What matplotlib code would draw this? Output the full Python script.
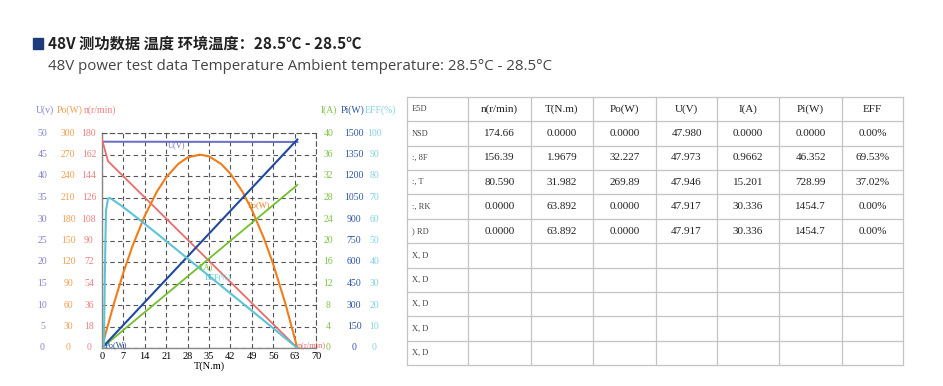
import matplotlib
matplotlib.use("Agg")
import matplotlib.pyplot as plt
from matplotlib.transforms import blended_transform_factory
from matplotlib.patches import Rectangle

# ---------------- data ----------------
torque = [0, 1.0, 1.97, 4, 7, 10, 14, 18, 21, 25, 28, 32, 35, 39, 42, 46, 49, 53, 56, 60, 63.892]
speed = [174.66, 165.4, 156.39, 151.26, 143.68, 136.10, 126.00, 115.90, 108.32, 98.22, 90.65,
         80.54, 72.97, 62.86, 55.29, 45.19, 37.61, 27.51, 19.93, 9.83, 0.0]
power_out = [0, 17.3, 32.2, 63.4, 105.3, 142.5, 184.7, 218.5, 238.2, 257.1, 265.8,
             269.9, 267.4, 256.7, 243.2, 217.7, 193.0, 152.7, 116.9, 61.8, 0.0]
voltage = [47.98, 47.98, 47.973, 47.97, 47.968, 47.966, 47.963, 47.96, 47.957, 47.954, 47.951,
           47.946, 47.943, 47.939, 47.936, 47.932, 47.929, 47.925, 47.922, 47.92, 47.917]
current = [0, 0.49, 0.9662, 1.929, 3.352, 4.775, 6.672, 8.569, 9.992, 11.889, 13.312,
           15.209, 16.632, 18.529, 19.952, 21.849, 23.272, 25.169, 26.592, 28.489, 30.336]
power_in = [0, 23.5, 46.352, 92.5, 160.7, 229.0, 319.9, 410.9, 479.1, 570.1, 638.3,
            729.3, 797.5, 888.5, 956.7, 1047.7, 1115.9, 1206.9, 1275.1, 1366.1, 1454.7]
eff_torque = [0, 0.6, 1.0, 1.3, 1.97, 2.5, 4, 7, 10, 14, 18, 21, 25, 28, 32, 35, 39, 42, 46, 49, 53, 56, 60, 63.892]
efficiency = [0, 0, 40, 64, 69.53, 69.8, 68.5, 65.5, 62.2, 57.7, 53.2, 49.7, 45.1, 41.6,
              37.0, 33.5, 28.9, 25.4, 20.8, 17.3, 12.7, 9.2, 4.5, 0.0]

x_ticks = [0, 7, 14, 21, 28, 35, 42, 49, 56, 63, 70]
u_ticks = [0, 5, 10, 15, 20, 25, 30, 35, 40, 45, 50]
po_ticks = [0, 30, 60, 90, 120, 150, 180, 210, 240, 270, 300]
n_ticks = [0, 18, 36, 54, 72, 90, 108, 126, 144, 162, 180]
i_ticks = [0, 4, 8, 12, 16, 20, 24, 28, 32, 36, 40]
pi_ticks = [0, 150, 300, 450, 600, 750, 900, 1050, 1200, 1350, 1500]
eff_ticks = [0, 10, 20, 30, 40, 50, 60, 70, 80, 90, 100]

table_header = ["E5D", "n(r/min)", "T(N.m)", "Po(W)", "U(V)", "I(A)", "Pi(W)", "EFF"]
table_rows = [
    ["NSD", "174.66", "0.0000", "0.0000", "47.980", "0.0000", "0.0000", "0.00%"],
    [":, 8F", "156.39", "1.9679", "32.227", "47.973", "0.9662", "46.352", "69.53%"],
    [":, T", "80.590", "31.982", "269.89", "47.946", "15.201", "728.99", "37.02%"],
    [":, RK", "0.0000", "63.892", "0.0000", "47.917", "30.336", "1454.7", "0.00%"],
    [") RD", "0.0000", "63.892", "0.0000", "47.917", "30.336", "1454.7", "0.00%"],
    ["X, D", "", "", "", "", "", "", ""],
    ["X, D", "", "", "", "", "", "", ""],
    ["X, D", "", "", "", "", "", "", ""],
    ["X, D", "", "", "", "", "", "", ""],
    ["X, D", "", "", "", "", "", "", ""],
]

title_cn = "48V 测功数据 温度 环境温度：28.5℃ - 28.5℃"
title_en = "48V power test data Temperature Ambient temperature: 28.5°C - 28.5°C"

# ---------------- styles ----------------
C_U, C_N, C_PO = "#6f73c6", "#ec6b6b", "#f07d1a"
C_I, C_PI, C_EFF = "#72c02c", "#1f4aa0", "#5bc4d6"
L_U, L_PO, L_N = "#8484cc", "#f2a050", "#f08080"
L_I, L_PI, L_EFF = "#7cc446", "#2c55a5", "#86d2e2"
SERIF = "Liberation Serif"

W, H = 943, 386
fig = plt.figure(figsize=(W / 100, H / 100), dpi=100)
fig.patch.set_facecolor("white")


def fx(px):
    return px / W


def fy(py):
    return 1 - py / H


# title
fig.patches.append(Rectangle((fx(32.5), fy(48.5)), fx(10.5), 10.5 / H,
                             transform=fig.transFigure, color="#1f3c7a"))
fig.text(fx(48), fy(43.5), title_cn, family=["Noto Sans CJK SC", "DejaVu Sans"],
         weight="bold", fontsize=11, color="#222222", va="center", ha="left")
fig.text(fx(48), fy(67), title_en, family=["Open Sans", "DejaVu Sans"],
         fontsize=10.8, color="#444444", va="center", ha="left")

# ---------------- chart ----------------
ax_l, ax_r, ax_t, ax_b = 102, 316, 133, 348
ax = fig.add_axes([fx(ax_l), fy(ax_b), fx(ax_r - ax_l), (ax_b - ax_t) / H])
ax.set_xlim(0, 70)
ax.set_ylim(0, 50)
ax.set_xticks(x_ticks)
ax.set_yticks(u_ticks)
ax.set_yticklabels([])
ax.tick_params(axis="both", length=0)
ax.tick_params(axis="x", pad=3)
for lbl in ax.get_xticklabels():
    lbl.set_family(SERIF)
    lbl.set_fontsize(7.5)
ax.grid(True, color="#555555", linestyle=(0, (4, 3)), linewidth=0.8)
for s in ["top", "right"]:
    ax.spines[s].set_linestyle((0, (4, 3)))
    ax.spines[s].set_color("#555555")
    ax.spines[s].set_linewidth(0.8)
for s in ["left", "bottom"]:
    ax.spines[s].set_color("#888888")
    ax.spines[s].set_linewidth(1.0)
ax.set_xlabel("T(N.m)", family=SERIF, fontsize=7.5, labelpad=0)


def twin(ylim):
    t = ax.twinx()
    t.set_ylim(*ylim)
    t.set_axis_off()
    return t


a_n = twin((0, 180))
a_po = twin((0, 300))
a_i = twin((0, 40))
a_pi = twin((0, 1500))
a_eff = twin((0, 100))

ax.plot(torque, voltage, color=C_U, lw=1.5, zorder=3)
a_n.plot(torque, speed, color=C_N, lw=1.3)
a_po.plot(torque, power_out, color=C_PO, lw=1.5)
a_i.plot(torque, current, color=C_I, lw=1.3)
a_pi.plot(torque, power_in, color=C_PI, lw=1.5)
a_eff.plot(eff_torque, efficiency, color=C_EFF, lw=1.5)

lab_kw = dict(family=SERIF, fontsize=6, ha="left", va="center")
ax.text(21.5, 47.2, "U(V)", color=C_U, **lab_kw)
a_po.text(47.8, 199.6, "Po(W)", color=C_PO, **lab_kw)
a_eff.text(31.5, 37.6, "I(A)", color=C_I, zorder=10, **lab_kw)
a_eff.text(33.5, 32.8, "EFF(%)", color=C_EFF, zorder=10, **lab_kw)
a_pi.text(1.0, 20, "Po(W)", color=C_PI, **lab_kw)
a_n.text(64.1, 2.5, "n(r/min)", color=C_N, **lab_kw)

# axis tick label columns
tr = blended_transform_factory(fig.transFigure, ax.transAxes)
cols = [
    (42.5, "U(v)", u_ticks, L_U, 45),
    (68, "Po(W)", po_ticks, L_PO, 70),
    (89, "n(r/min)", n_ticks, L_N, 100),
    (328.5, "I(A)", i_ticks, L_I, 329),
    (354, "Pi(W)", pi_ticks, L_PI, 353),
    (374.5, "EFF(%)", eff_ticks, L_EFF, 380.5),
]
header_y = (ax_b - 110) / (ax_b - ax_t)
for xc, head, ticks, col, hx in cols:
    n = len(ticks) - 1
    for k, v in enumerate(ticks):
        fig.text(fx(xc), k / n, str(v), transform=tr, family=SERIF, fontsize=7,
                 color=col, ha="center", va="center")
    fig.text(fx(hx), header_y, head, transform=tr, family=SERIF, fontsize=7,
             color=col, ha="center", va="center")

# ---------------- table ----------------
col_edges = [407, 468, 531, 593, 656, 717, 779, 842, 903]
tb_top, tb_bot = 97, 365
tax = fig.add_axes([fx(col_edges[0]), fy(tb_bot), fx(col_edges[-1] - col_edges[0]),
                    (tb_bot - tb_top) / H])
tax.set_xlim(col_edges[0], col_edges[-1])
n_rows = len(table_rows) + 1
tax.set_ylim(n_rows, 0)
tax.set_axis_off()
for xe in col_edges:
    tax.plot([xe, xe], [0, n_rows], color="#c4c4c4", lw=0.9, clip_on=False)
for r in range(n_rows + 1):
    tax.plot([col_edges[0], col_edges[-1]], [r, r], color="#c4c4c4", lw=0.9, clip_on=False)

all_rows = [table_header] + table_rows
for r, row in enumerate(all_rows):
    for c, txt in enumerate(row):
        if not txt:
            continue
        if c == 0:
            tax.text(col_edges[0] + 5, r + 0.5, txt, family=SERIF,
                     fontsize=6, color="#444444", ha="left", va="center")
        else:
            xc = (col_edges[c] + col_edges[c + 1]) / 2
            tax.text(xc, r + 0.5, txt, family=SERIF, fontsize=8, color="#222222",
                     ha="center", va="center")

fig.savefig("out.png", dpi=100, facecolor="white")
